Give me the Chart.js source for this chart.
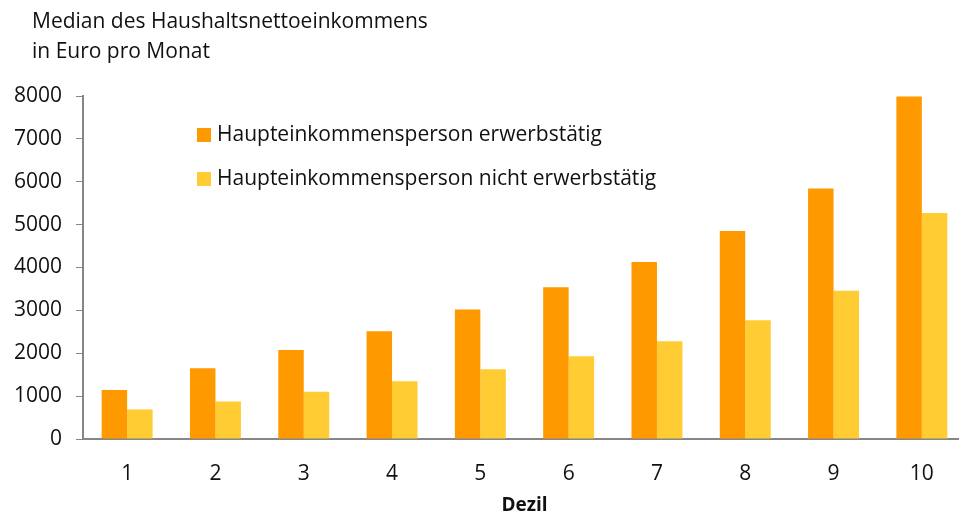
<!DOCTYPE html>
<html>
<head>
<meta charset="utf-8">
<script src="https://cdn.jsdelivr.net/npm/chart.js@4"></script>
<style>
  html, body { margin: 0; padding: 0; background: #fff; overflow: hidden; }
  #wrap { width: 959px; height: 511px; overflow: hidden; position: relative; }
  canvas { display: block; }
</style>
</head>
<body>
<div id="wrap"><canvas id="chart" width="972" height="515"></canvas></div>
<script>
const deciles = ['1', '2', '3', '4', '5', '6', '7', '8', '9', '10'];
const employed = [1140, 1650, 2075, 2515, 3020, 3540, 4130, 4850, 5845, 7990];
const notEmployed = [690, 875, 1100, 1345, 1625, 1930, 2280, 2770, 3455, 5270];
const seriesNames = ['Haupteinkommensperson erwerbstätig', 'Haupteinkommensperson nicht erwerbstätig'];
const titleLines = ['Median des Haushaltsnettoeinkommens', 'in Euro pro Monat'];

const FONT = '"Open Sans", sans-serif';
const AXIS = '#868686';
const INK = '#111';

// title block top left and the legend inside the plot area
const extras = {
    id: 'extras',
    afterDraw(chart) {
        const ctx = chart.ctx;
        ctx.save();
        ctx.fillStyle = INK;
        ctx.font = '21px ' + FONT;
        ctx.textBaseline = 'middle';
        ctx.textAlign = 'left';
        titleLines.forEach((t, i) => ctx.fillText(t, 32, 22 + i * 30));

        ctx.font = '21px ' + FONT;
        chart.data.datasets.forEach((ds, i) => {
            const y = 135 + i * 44;
            ctx.fillStyle = ds.backgroundColor;
            ctx.fillRect(197, y - 7, 14, 14);
            ctx.fillStyle = INK;
            ctx.fillText(ds.label, 217, y);
        });
        ctx.restore();
    }
};

new Chart(document.getElementById('chart'), {
    type: 'bar',
    data: {
        labels: deciles,
        datasets: [
            { label: seriesNames[0], data: employed, backgroundColor: '#FF9900' },
            { label: seriesNames[1], data: notEmployed, backgroundColor: '#FFCC33' }
        ]
    },
    options: {
        responsive: false,
        animation: false,
        events: [],
        layout: { padding: { top: 96, right: 6, left: 0, bottom: 0 } },
        datasets: { bar: { categoryPercentage: 0.577, barPercentage: 1.0 } },
        plugins: { legend: { display: false }, tooltip: { enabled: false } },
        scales: {
            x: {
                grid: { display: false, drawTicks: false },
                border: { display: true, color: AXIS, width: 2 },
                ticks: { color: INK, font: { family: FONT, size: 21 }, padding: 22 },
                title: {
                    display: true, text: 'Dezil', color: INK,
                    font: { family: FONT, size: 19, weight: 'bold', lineHeight: 1 },
                    padding: { top: 0, bottom: 0 }
                },
                afterFit(s) { s.height = 76; }
            },
            y: {
                min: 0, max: 8000,
                grid: { display: true, drawOnChartArea: false, drawTicks: true, tickLength: 7, color: AXIS, lineWidth: 1 },
                border: { display: true, color: AXIS, width: 2 },
                ticks: {
                    stepSize: 1000, color: INK, font: { family: FONT, size: 21 }, padding: 14,
                    callback: v => String(v)
                },
                afterFit(s) { s.width = 83; }
            }
        }
    },
    plugins: [extras]
});
</script>
</body>
</html>
